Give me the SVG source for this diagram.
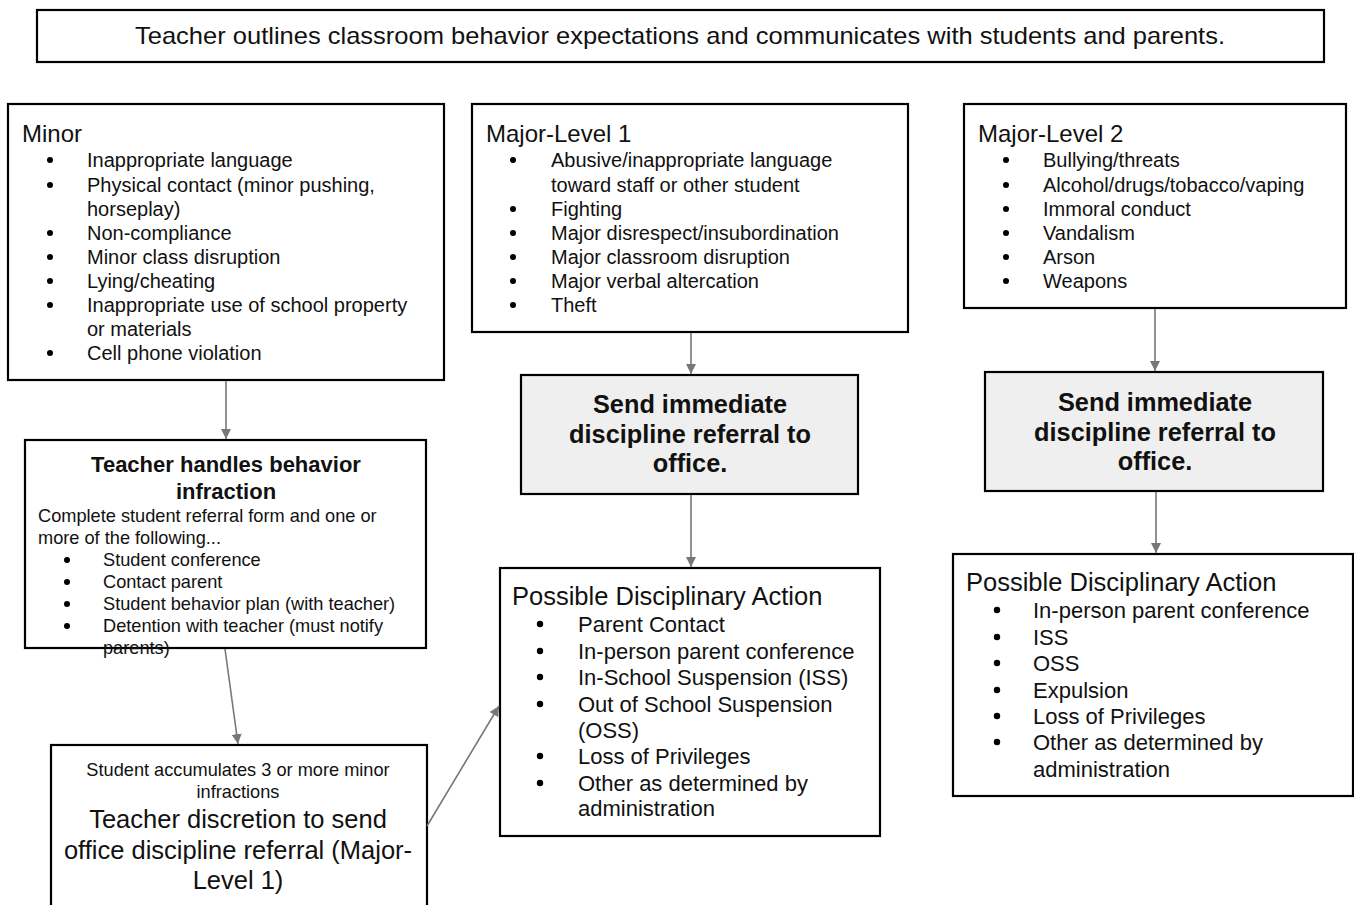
<svg xmlns="http://www.w3.org/2000/svg" width="1354" height="905" viewBox="0 0 1354 905">
<defs>
<style>
.box{fill:#ffffff;stroke:#000000;stroke-width:2.2}
.grey{fill:#efefef;stroke:#000000;stroke-width:2.2}
text{font-family:"Liberation Sans",Arial,sans-serif;fill:#111111}
.t{font-size:24px}
.i{font-size:20px}
.pi{font-size:22px}
.pt{font-size:25.5px}
.s{font-size:18.2px}
.b{font-weight:bold}
.c{text-anchor:middle}
.dot{fill:#000000}
.con{stroke:#777777;stroke-width:1.6;fill:none}
</style>
<marker id="ah" viewBox="0 0 10 10" refX="10" refY="5" markerWidth="10" markerHeight="10" markerUnits="userSpaceOnUse" orient="auto">
<path d="M0,0 L10,5 L0,10 z" fill="#777777"/>
</marker>
</defs>
<rect width="1354" height="905" fill="#ffffff"/>

<g id="top">
<rect class="box" x="37" y="10" width="1287" height="52"/>
<text class="c" x="680" y="44" style="font-size:24px" textLength="1090" lengthAdjust="spacingAndGlyphs">Teacher outlines classroom behavior expectations and communicates with students and parents.</text>
</g>

<g id="minor">
<rect class="box" x="8" y="104" width="436" height="276"/>
<text class="t" x="22" y="142">Minor</text>
<g class="dot">
<circle cx="50" cy="160" r="3"/><circle cx="50" cy="185" r="3"/><circle cx="50" cy="233" r="3"/><circle cx="50" cy="257" r="3"/><circle cx="50" cy="281" r="3"/><circle cx="50" cy="305" r="3"/><circle cx="50" cy="353" r="3"/>
</g>
<text class="i" x="87" y="167">Inappropriate language</text>
<text class="i" x="87" y="192">Physical contact (minor pushing,</text>
<text class="i" x="87" y="216">horseplay)</text>
<text class="i" x="87" y="240">Non-compliance</text>
<text class="i" x="87" y="264">Minor class disruption</text>
<text class="i" x="87" y="288">Lying/cheating</text>
<text class="i" x="87" y="312">Inappropriate use of school property</text>
<text class="i" x="87" y="336">or materials</text>
<text class="i" x="87" y="360">Cell phone violation</text>
</g>

<g id="major1">
<rect class="box" x="472" y="104" width="436" height="228"/>
<text class="t" x="486" y="142">Major-Level 1</text>
<g class="dot">
<circle cx="513" cy="160" r="3"/><circle cx="513" cy="209" r="3"/><circle cx="513" cy="233" r="3"/><circle cx="513" cy="257" r="3"/><circle cx="513" cy="281" r="3"/><circle cx="513" cy="305" r="3"/>
</g>
<text class="i" x="551" y="167">Abusive/inappropriate language</text>
<text class="i" x="551" y="192">toward staff or other student</text>
<text class="i" x="551" y="216">Fighting</text>
<text class="i" x="551" y="240">Major disrespect/insubordination</text>
<text class="i" x="551" y="264">Major classroom disruption</text>
<text class="i" x="551" y="288">Major verbal altercation</text>
<text class="i" x="551" y="312">Theft</text>
</g>

<g id="major2">
<rect class="box" x="964" y="104" width="382" height="204"/>
<text class="t" x="978" y="142">Major-Level 2</text>
<g class="dot">
<circle cx="1006" cy="160" r="3"/><circle cx="1006" cy="185" r="3"/><circle cx="1006" cy="209" r="3"/><circle cx="1006" cy="233" r="3"/><circle cx="1006" cy="257" r="3"/><circle cx="1006" cy="281" r="3"/>
</g>
<text class="i" x="1043" y="167">Bullying/threats</text>
<text class="i" x="1043" y="192">Alcohol/drugs/tobacco/vaping</text>
<text class="i" x="1043" y="216">Immoral conduct</text>
<text class="i" x="1043" y="240">Vandalism</text>
<text class="i" x="1043" y="264">Arson</text>
<text class="i" x="1043" y="288">Weapons</text>
</g>

<g id="send1">
<rect class="grey" x="521" y="375" width="337" height="119"/>
<text class="c b" x="690" y="413" style="font-size:25.3px">Send immediate</text>
<text class="c b" x="690" y="443" style="font-size:25.3px">discipline referral to</text>
<text class="c b" x="690" y="472" style="font-size:25.3px">office.</text>
</g>

<g id="send2">
<rect class="grey" x="985" y="372" width="338" height="119"/>
<text class="c b" x="1155" y="411" style="font-size:25.3px">Send immediate</text>
<text class="c b" x="1155" y="441" style="font-size:25.3px">discipline referral to</text>
<text class="c b" x="1155" y="470" style="font-size:25.3px">office.</text>
</g>

<g id="teacher">
<rect class="box" x="25" y="440" width="401" height="208"/>
<text class="c b" x="226" y="472" style="font-size:22px">Teacher handles behavior</text>
<text class="c b" x="226" y="499" style="font-size:22px">infraction</text>
<text class="s" x="38" y="522">Complete student referral form and one or</text>
<text class="s" x="38" y="544">more of the following...</text>
<g class="dot">
<circle cx="67" cy="560" r="3"/><circle cx="67" cy="582" r="3"/><circle cx="67" cy="604" r="3"/><circle cx="67" cy="626" r="3"/>
</g>
<text class="s" x="103" y="566">Student conference</text>
<text class="s" x="103" y="588">Contact parent</text>
<text class="s" x="103" y="610">Student behavior plan (with teacher)</text>
<text class="s" x="103" y="632">Detention with teacher (must notify</text>
<text class="s" x="103" y="654">parents)</text>
</g>

<g id="accumulates">
<rect class="box" x="51" y="745" width="376" height="200"/>
<text class="c" x="238" y="776" style="font-size:18.2px">Student accumulates 3 or more minor</text>
<text class="c" x="238" y="798" style="font-size:18.2px">infractions</text>
<text class="c" x="238" y="828" style="font-size:25.5px">Teacher discretion to send</text>
<text class="c" x="238" y="859" style="font-size:25.5px">office discipline referral (Major-</text>
<text class="c" x="238" y="889" style="font-size:25.5px">Level 1)</text>
</g>

<g id="action1">
<rect class="box" x="500" y="568" width="380" height="268"/>
<text class="pt" x="512" y="605">Possible Disciplinary Action</text>
<g class="dot">
<circle cx="540" cy="624" r="3.2"/><circle cx="540" cy="651" r="3.2"/><circle cx="540" cy="677" r="3.2"/><circle cx="540" cy="704" r="3.2"/><circle cx="540" cy="756" r="3.2"/><circle cx="540" cy="783" r="3.2"/>
</g>
<text class="pi" x="578" y="632">Parent Contact</text>
<text class="pi" x="578" y="659">In-person parent conference</text>
<text class="pi" x="578" y="685">In-School Suspension (ISS)</text>
<text class="pi" x="578" y="712">Out of School Suspension</text>
<text class="pi" x="578" y="738">(OSS)</text>
<text class="pi" x="578" y="764">Loss of Privileges</text>
<text class="pi" x="578" y="791">Other as determined by</text>
<text class="pi" x="578" y="816">administration</text>
</g>

<g id="action2">
<rect class="box" x="953" y="554" width="400" height="242"/>
<text class="pt" x="966" y="591">Possible Disciplinary Action</text>
<g class="dot">
<circle cx="997" cy="610" r="3.2"/><circle cx="997" cy="637" r="3.2"/><circle cx="997" cy="663" r="3.2"/><circle cx="997" cy="690" r="3.2"/><circle cx="997" cy="716" r="3.2"/><circle cx="997" cy="742" r="3.2"/>
</g>
<text class="pi" x="1033" y="618">In-person parent conference</text>
<text class="pi" x="1033" y="645">ISS</text>
<text class="pi" x="1033" y="671">OSS</text>
<text class="pi" x="1033" y="698">Expulsion</text>
<text class="pi" x="1033" y="724">Loss of Privileges</text>
<text class="pi" x="1033" y="750">Other as determined by</text>
<text class="pi" x="1033" y="777">administration</text>
</g>

<g id="connectors">
<line class="con" x1="226" y1="381" x2="226" y2="439" marker-end="url(#ah)"/>
<line class="con" x1="691" y1="333" x2="691" y2="374" marker-end="url(#ah)"/>
<line class="con" x1="1155" y1="309" x2="1155" y2="371" marker-end="url(#ah)"/>
<line class="con" x1="691" y1="495" x2="691" y2="567" marker-end="url(#ah)"/>
<line class="con" x1="1156" y1="492" x2="1156" y2="553" marker-end="url(#ah)"/>
<line class="con" x1="225" y1="649" x2="238" y2="744" marker-end="url(#ah)"/>
<line class="con" x1="427" y1="826" x2="499" y2="706" marker-end="url(#ah)"/>
</g>
</svg>
